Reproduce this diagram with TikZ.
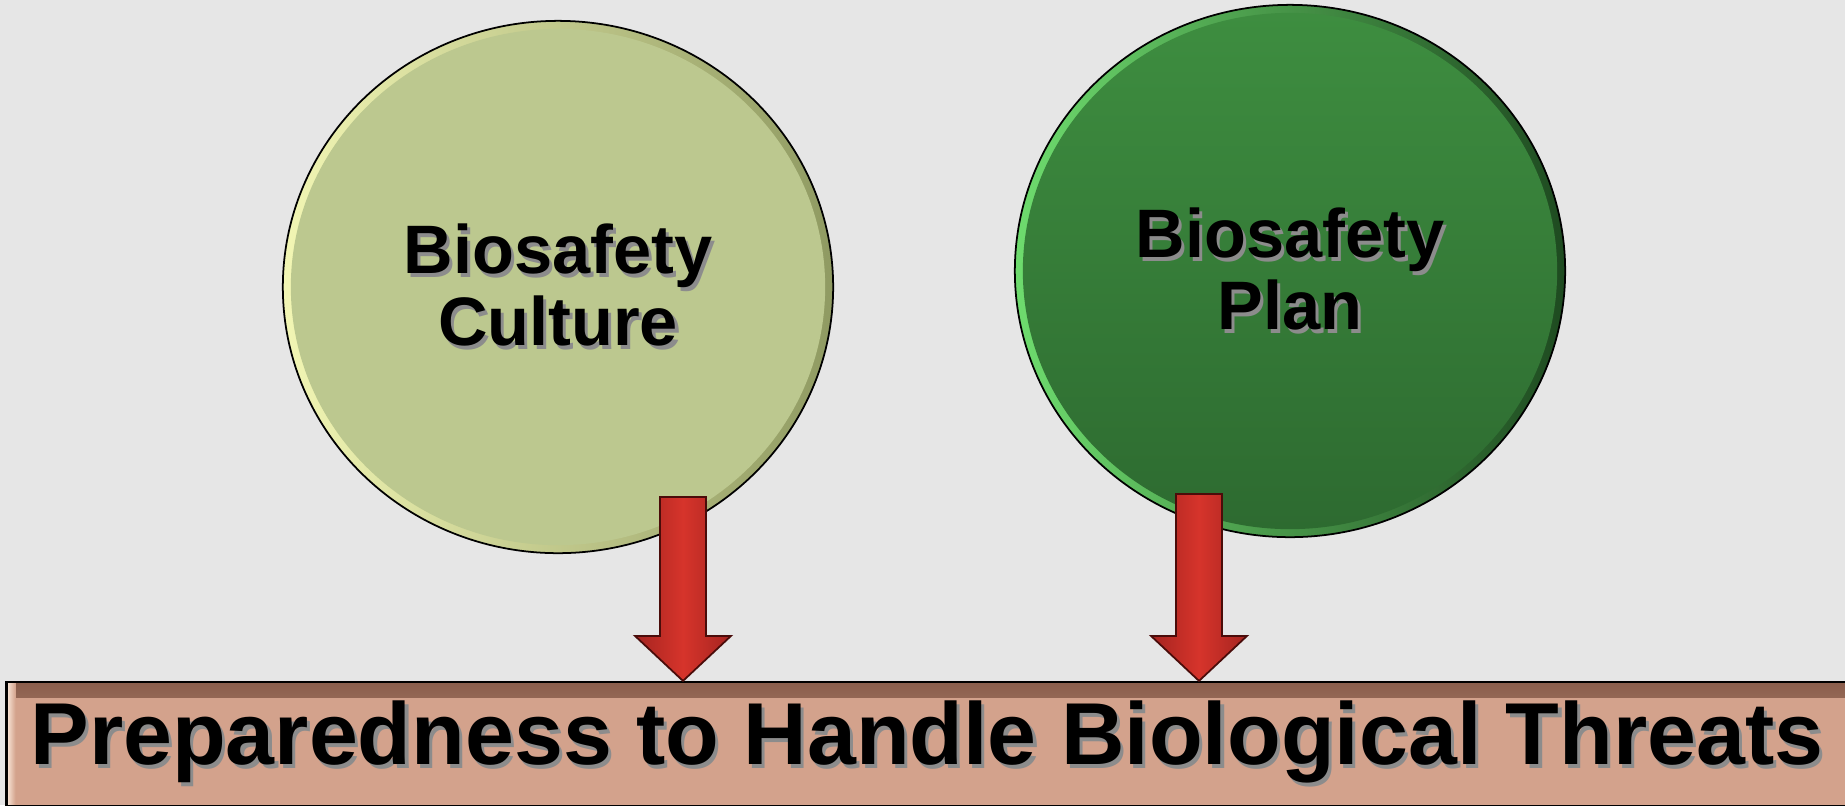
\documentclass[tikz,border=0pt]{standalone}
\usepackage{fontspec}
\setmainfont{Liberation Sans}
\usetikzlibrary{calc,shapes.geometric}
\definecolor{bggray}{HTML}{E6E6E6}
\definecolor{culturefill}{HTML}{BCC88F}
\definecolor{culturerim}{HTML}{F2F6B4}
\definecolor{cultureedge}{HTML}{8F9A62}
\definecolor{plantop}{HTML}{3E8E40}
\definecolor{plandark}{HTML}{2D6A30}
\definecolor{planrim}{HTML}{6EDC6E}
\definecolor{planedge}{HTML}{1E4A20}
\definecolor{barfill}{HTML}{D3A28C}
\definecolor{barshadow}{HTML}{8A5E4C}
\definecolor{barlight}{HTML}{FBEADC}
\definecolor{arrowred}{HTML}{D6342B}
\definecolor{arrowdark}{HTML}{A52420}
\definecolor{arrowline}{HTML}{4A0C0A}
\newcommand\circfont{\fontsize{19.5}{20.5}\selectfont\bfseries}
\newcommand\barfont{\fontsize{25}{30}\selectfont\bfseries}
\newcommand\shtext[1]{\leavevmode\rlap{\raisebox{-0.9pt}{\kern0.9pt\textcolor{black!45}{#1}}}#1}
\def\blockarrow[#1](#2)(#3){\shadedraw[#1] ($(#2)+(-23,0)$) -- ($(#2)+(23,0)$) -- ($(#3)+(23,-45)$) -- ($(#3)+(48,-45)$) -- (#3) -- ($(#3)+(-48,-45)$) -- ($(#3)+(-23,-45)$) -- cycle;}
\tikzset{
  bubble/.style={ellipse, draw=black, line width=0.5pt, minimum width=5.5cm, minimum height=5.32cm, inner sep=0pt, align=center, font=\circfont},
  culture/.style={bubble, left color=culturerim, right color=cultureedge,
    path picture={\fill[culturefill] (path picture bounding box.center) ellipse [x radius=2.67cm, y radius=2.58cm];}},
  plan/.style={bubble, left color=planrim, right color=planedge,
    path picture={\shade[top color=plantop, bottom color=plandark] (path picture bounding box.center) ellipse [x radius=2.67cm, y radius=2.58cm];}},
  bar/.style={rectangle, draw=black, line width=0.6pt, fill=barfill, minimum width=18.4cm, minimum height=1.24cm, inner sep=0pt, font=\barfont,
    path picture={
      \shade[top color=barshadow, bottom color=barfill] (path picture bounding box.north west) rectangle ($(path picture bounding box.north east)+(0,16)$);
      \shade[left color=barlight, right color=barfill] (path picture bounding box.north west) rectangle ($(path picture bounding box.south west)+(9,0)$);
    }},
  fatarrow/.style={left color=arrowdark, right color=arrowdark, middle color=arrowred, draw=arrowline, line width=0.5pt, line join=miter}
}
\begin{document}
\begin{tikzpicture}[x=0.01cm, y=-0.01cm]
			%%%%% START %%%%%
			\useasboundingbox (0,0) rectangle (1845,805);
			\fill[bggray] (0,0) rectangle (1845,805);
			
			\node[culture] (culture) at (558,287) {\shtext{Biosafety}\\\shtext{Culture}};
			\node[plan] (plan) at (1290,271) {\shtext{Biosafety}\\\shtext{Plan}};
			
			\node[bar] (threats) at (927,744) {\shtext{Preparedness to Handle Biological Threats}};
			
			\coordinate (culturearrow) at (683,497);
			\coordinate (planarrow) at (1199,494);
			\blockarrow[fatarrow](culturearrow)(culturearrow |- threats.north)
			\blockarrow[fatarrow](planarrow)(planarrow |- threats.north)
			
			%%%%% END %%%%%
\end{tikzpicture}
\end{document}
